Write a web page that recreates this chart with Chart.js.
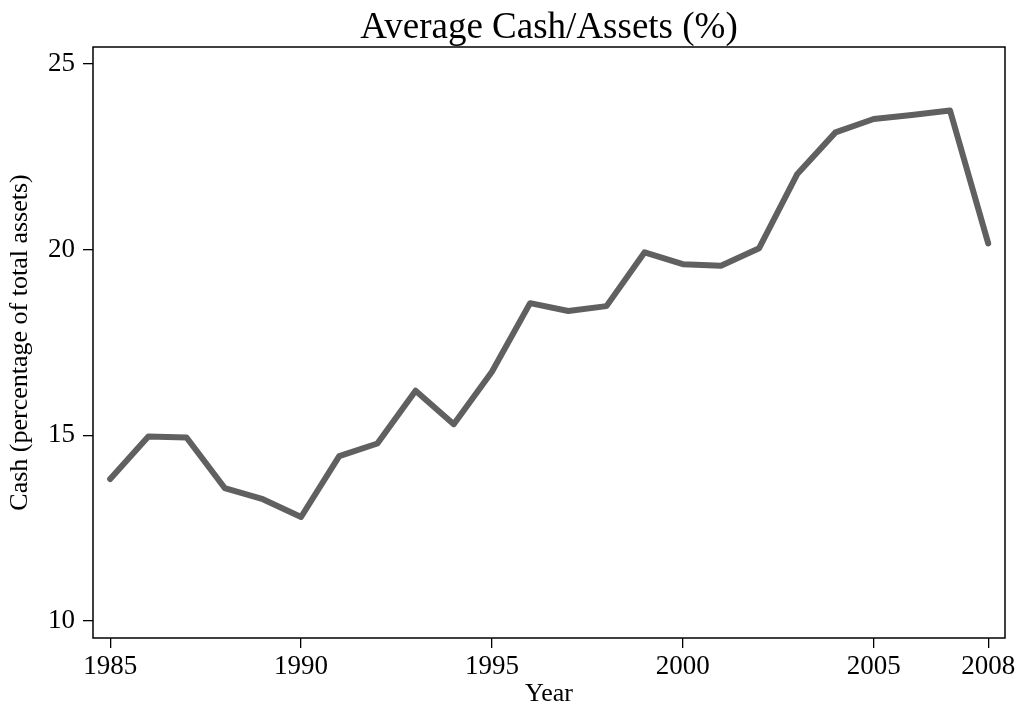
<!DOCTYPE html>
<html>
<head>
<meta charset="utf-8">
<script src="https://cdn.jsdelivr.net/npm/chart.js@4"></script>
<style>
  html, body { margin: 0; padding: 0; background: #fff; }
  #wrap { width: 1019px; height: 709px; }
</style>
</head>
<body>
<div id="wrap"><canvas id="graphCanvas"></canvas></div>
<script>
const years = [1985, 1986, 1987, 1988, 1989, 1990, 1991, 1992, 1993, 1994, 1995, 1996,
               1997, 1998, 1999, 2000, 2001, 2002, 2003, 2004, 2005, 2006, 2007, 2008];
const cash = [13.82, 14.97, 14.94, 13.58, 13.28, 12.80, 14.44, 14.78, 16.20, 15.30, 16.71, 18.56,
              18.35, 18.48, 19.93, 19.61, 19.57, 20.04, 22.04, 23.16, 23.52, 23.63, 23.75, 20.17];
const xTicks = [1985, 1990, 1995, 2000, 2005, 2008];
const yTicks = [10, 15, 20, 25];

const serif = "'Liberation Serif', 'Times New Roman', serif";

// box around plot area + title centred over it
const frame = {
    id: 'frame',
    beforeDatasetsDraw(chart) {
        const a = chart.chartArea;
        const ctx = chart.ctx;
        ctx.save();
        ctx.strokeStyle = '#000';
        ctx.lineWidth = 1.5;
        ctx.strokeRect(a.left, a.top, a.right - a.left, a.bottom - a.top);
        ctx.restore();
    },
    afterDraw(chart) {
        const a = chart.chartArea;
        const ctx = chart.ctx;
        ctx.save();
        ctx.fillStyle = '#000';
        ctx.font = '37px ' + serif;
        ctx.textAlign = 'center';
        ctx.textBaseline = 'middle';
        ctx.fillText('Average Cash/Assets (%)', (a.left + a.right) / 2, 28);
        ctx.restore();
    }
};

const context = document.getElementById('graphCanvas').getContext('2d');
const chart = new Chart(context, {
    type: 'line',
    data: {
        labels: years,
        datasets: [
            {
                label: 'Cash',
                data: years.map((y, i) => ({ x: y, y: cash[i] })),
                borderColor: '#606060',
                borderWidth: 6,
                borderJoinStyle: 'round',
                borderCapStyle: 'round',
                pointRadius: 0,
                tension: 0,
            }
        ]
    },
    options: {
        responsive: true,
        maintainAspectRatio: false,
        animation: false,
        layout: { padding: { top: 47, right: 14, left: 0, bottom: 0 } },
        plugins: {
            legend: { display: false },
            title: { display: false },
            tooltip: { enabled: false }
        },
        scales: {
            x: {
                type: 'linear',
                min: 1984.55,
                max: 2008.44,
                afterBuildTicks: s => { s.ticks = xTicks.map(v => ({ value: v })); },
                afterFit: s => { s.height = 71; },
                border: { display: false },
                grid: { drawOnChartArea: false, drawTicks: true, tickLength: 10, color: '#000', lineWidth: 1.3 },
                ticks: {
                    color: '#000',
                    font: { family: serif, size: 27 },
                    padding: 3,
                    maxRotation: 0,
                    callback: v => String(v)
                },
                title: {
                    display: true,
                    text: 'Year',
                    color: '#000',
                    font: { family: serif, size: 26 },
                    padding: { top: 0, bottom: -1 }
                }
            },
            y: {
                min: 9.54,
                max: 25.46,
                afterBuildTicks: s => { s.ticks = yTicks.map(v => ({ value: v })); },
                afterFit: s => { s.width = 93; },
                border: { display: false },
                grid: { drawOnChartArea: false, drawTicks: true, tickLength: 10, color: '#000', lineWidth: 1.3 },
                ticks: {
                    color: '#000',
                    font: { family: serif, size: 27 },
                    padding: 8,
                    callback: v => String(v)
                },
                title: {
                    display: true,
                    text: 'Cash (percentage of total assets)',
                    color: '#000',
                    font: { family: serif, size: 26 },
                    padding: { top: 5, bottom: 0 }
                }
            }
        }
    },
    plugins: [frame]
});
</script>
</body>
</html>
